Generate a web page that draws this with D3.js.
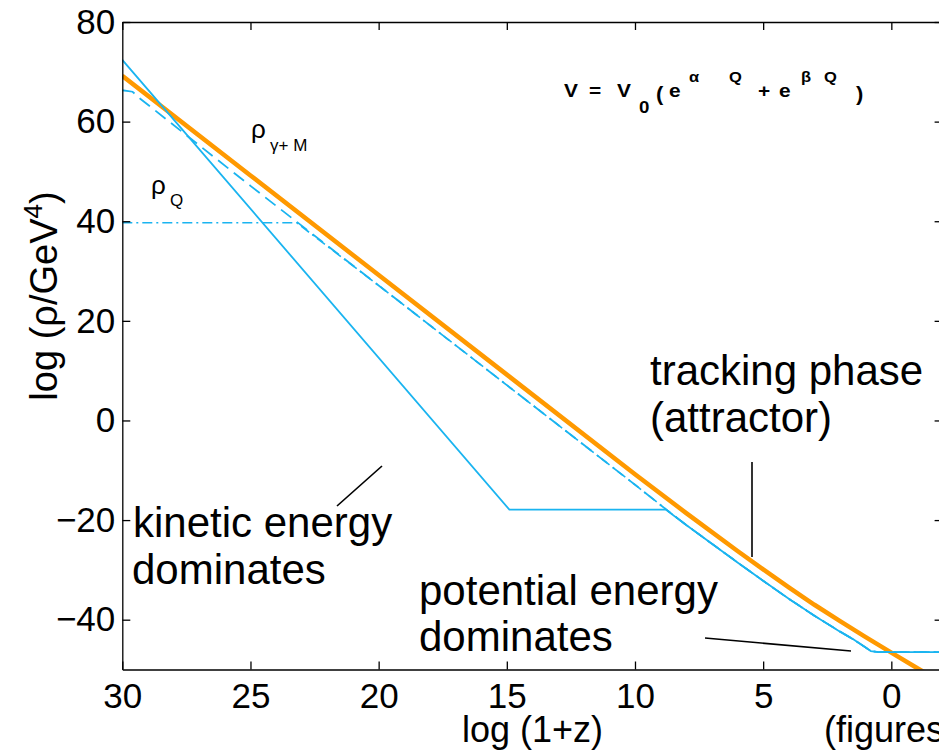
<!DOCTYPE html>
<html><head><meta charset="utf-8">
<script src="https://cdn.jsdelivr.net/npm/d3@7"></script>
<style>
body{margin:0;background:#fff}
svg{display:block}
text{font-family:"Liberation Sans",Arial,Helvetica,sans-serif;fill:#000}
</style>
</head><body>
<svg id="c" width="939" height="751"></svg>
<script>
// ---- data ----
const xTicks = [30, 25, 20, 15, 10, 5, 0];
const yTicks = [80, 60, 40, 20, 0, -20, -40];

// rho_{gamma+M}: radiation + matter
const radMatX = [30, 25, 20, 15, 10, 8, 6, 5, 4, 3, 2, 1, 0, -1, -2];
const radMatY = [69.2, 49.2, 29.2, 9.2, -10.8, -18.6, -26.2, -29.9, -33.5, -37.0, -40.3, -43.5, -46.6, -49.7, -52.7];

// rho_Q starting high: kinetic domination, frozen, then tracker
const kineticX = [30, 14.9, 8.8, 8, 6, 5, 4, 3, 2, 1.5, 1, 0.8, 0.5, 0, -1, -2];
const kineticY = [72.4, -17.9, -17.9, -21.0, -28.5, -32.2, -35.8, -39.2, -42.4, -43.9, -45.6, -46.3, -46.5, -46.5, -46.5, -46.5];

// rho_Q starting low: frozen, then tracker (dash-dot)
const frozenX = [30, 23.2, 20, 15, 10, 8.8, 8, 6, 5, 4, 3, 2, 1.5, 1, 0.8, 0.5, 0, -1, -2];
const frozenY = [39.7, 39.7, 27.1, 7.1, -12.9, -17.8, -21.0, -28.5, -32.2, -35.8, -39.2, -42.4, -43.9, -45.6, -46.3, -46.5, -46.5, -46.5, -46.5];

// tracker solution (dashed)
const trackerX = [30, 29.6, 29.3, 25, 20, 15, 10, 8.8, 8, 6, 5, 4, 3, 2, 1.5, 1, 0.8, 0.5, 0, -1, -2];
const trackerY = [66.3, 66.0, 64.6, 47.1, 27.1, 7.1, -12.9, -17.8, -21.0, -28.5, -32.2, -35.8, -39.2, -42.4, -43.9, -45.6, -46.3, -46.5, -46.5, -46.5, -46.5];

// ---- layout ----
const svg = d3.select("#c");
const L = 122.3, R = 942.6, T = 22, B = 669.5;
const x = d3.scaleLinear().domain([30, -2]).range([L, R]);
const y = d3.scaleLinear().domain([-50, 80]).range([B, T]);
const ORANGE = "#ff9900", BLUE = "#1ab4f0";
const FONT = '"Liberation Sans",Arial,Helvetica,sans-serif';

svg.append("defs").append("clipPath").attr("id", "clip")
  .append("rect").attr("x", L).attr("y", T).attr("width", R - L).attr("height", B - T);

const pts = (xs, ys) => xs.map((v, i) => [v, ys[i]]);
const line = d3.line().x(d => x(d[0])).y(d => y(d[1]));
const plot = svg.append("g").attr("clip-path", "url(#clip)");

plot.append("path").datum(pts(radMatX, radMatY)).attr("d", line)
  .attr("fill", "none").attr("stroke", ORANGE).attr("stroke-width", 4.5);
plot.append("path").datum(pts(trackerX, trackerY)).attr("d", line)
  .attr("fill", "none").attr("stroke", BLUE).attr("stroke-width", 1.8).attr("stroke-dasharray", "13,7");
plot.append("path").datum(pts(frozenX, frozenY)).attr("d", line)
  .attr("fill", "none").attr("stroke", BLUE).attr("stroke-width", 1.6).attr("stroke-dasharray", "10,4,2,4");
plot.append("path").datum(pts(kineticX, kineticY)).attr("d", line)
  .attr("fill", "none").attr("stroke", BLUE).attr("stroke-width", 1.8);

// ---- axes ----
const axB = svg.append("g").attr("transform", `translate(0,${B})`)
  .call(d3.axisBottom(x).tickValues(xTicks).tickSizeInner(-8).tickSizeOuter(0).tickPadding(14));
const axT = svg.append("g").attr("transform", `translate(0,${T})`)
  .call(d3.axisTop(x).tickValues(xTicks).tickSizeInner(-8).tickSizeOuter(0).tickFormat(""));
const axL = svg.append("g").attr("transform", `translate(${L},0)`)
  .call(d3.axisLeft(y).tickValues(yTicks).tickSizeInner(-8).tickSizeOuter(0).tickPadding(7));
const axR = svg.append("g").attr("transform", `translate(${R},0)`)
  .call(d3.axisRight(y).tickValues(yTicks).tickSizeInner(-8).tickSizeOuter(0).tickFormat(""));
[axB, axT, axL, axR].forEach(a => {
  a.select(".domain").attr("stroke", "#000").attr("stroke-width", 1.3);
  a.selectAll(".tick line").attr("stroke", "#000").attr("stroke-width", 1.3);
  a.selectAll("text").attr("font-family", FONT).attr("font-size", 35).attr("fill", "#000");
});
axB.selectAll("text").attr("dy", "0.71em");

// axis titles
svg.append("text").attr("x", (L + R) / 2).attr("y", 742).attr("text-anchor", "middle")
  .attr("font-size", 36).text("log (1+z)");
svg.append("text").attr("x", 824).attr("y", 742).attr("font-size", 36).text("(figures");
const yl = svg.append("text").attr("transform", "translate(57,296) rotate(-90)")
  .attr("text-anchor", "middle").attr("font-size", 38);
yl.append("tspan").text("log (ρ/GeV");
yl.append("tspan").attr("font-size", 26).attr("dy", -15).text("4");
yl.append("tspan").attr("dy", 15).text(")");

// ---- annotations ----
function txt(xp, yp, s, fs) {
  return svg.append("text").attr("x", xp).attr("y", yp).attr("font-size", fs).text(s);
}
txt(650, 385, "tracking phase", 42);
txt(650, 432, "(attractor)", 42);
txt(133, 537, "kinetic energy", 42);
txt(132, 584, "dominates", 42);
txt(419, 605, "potential energy", 42);
txt(419, 651, "dominates", 42);

// rho labels
txt(251, 138, "ρ", 26);
txt(270, 151, "γ+ M", 17);
txt(151, 194, "ρ", 26);
txt(170, 206, "Q", 17);

// equation V = V0 ( e^{αQ} + e^{βQ} )
function eq(xp, yp, s, fs) {
  svg.append("text").attr("transform", `translate(${xp},${yp}) scale(1.1,1)`)
    .attr("font-size", fs).attr("font-weight", "bold").text(s);
}
eq(564, 97, "V", 19);
eq(589, 97, "=", 19);
eq(617, 97, "V", 19);
eq(639, 113, "0", 17);
eq(656, 101, "(", 20);
eq(669, 97, "e", 19);
eq(689, 82, "α", 15);
eq(729, 82, "Q", 15);
eq(758, 97, "+", 19);
eq(779, 97, "e", 19);
eq(801, 82, "β", 15);
eq(824, 82, "Q", 15);
eq(856, 101, ")", 20);

// pointer lines
const ptr = svg.append("g").attr("stroke", "#000").attr("stroke-width", 1.6);
ptr.append("line").attr("x1", 382).attr("y1", 466).attr("x2", 337).attr("y2", 506);
ptr.append("line").attr("x1", 752).attr("y1", 462).attr("x2", 752).attr("y2", 557);
ptr.append("line").attr("x1", 705).attr("y1", 638).attr("x2", 851).attr("y2", 651);
</script>
</body></html>
